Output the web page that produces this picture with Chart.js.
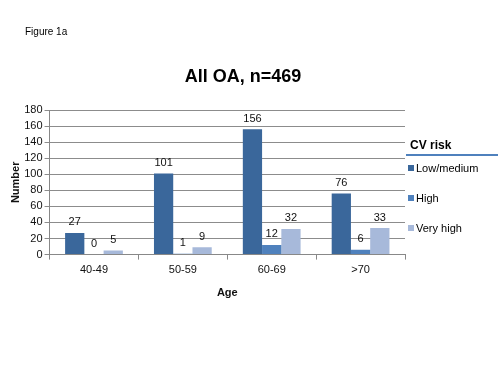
<!DOCTYPE html>
<html>
<head>
<meta charset="utf-8">
<script src="https://cdn.jsdelivr.net/npm/chart.js@4"></script>
<style>
  html, body { margin: 0; padding: 0; background: #fff; }
  body { width: 498px; height: 374px; position: relative; overflow: hidden; font-family: "Liberation Sans", Arial, sans-serif; color: #000; }
  #wrap { position: absolute; left: 0; top: 0; width: 498px; height: 374px; }
  .fig { position: absolute; left: 25px; top: 26px; font-size: 10px; }
  .title { position: absolute; left: 0; width: 486px; top: 66px; text-align: center; font-size: 18px; font-weight: bold; }
  .legend { position: absolute; left: 406px; top: 138px; width: 92px; font-size: 11px; }
  .legend .head { font-size: 12px; font-weight: bold; padding-left: 4px; padding-bottom: 2px; border-bottom: 2px solid #4f81bd; }
  .legend .item { position: absolute; left: 2px; white-space: nowrap; }
  .legend .sw { display: inline-block; width: 6px; height: 6px; margin-right: 2px; vertical-align: 1px; }
</style>
</head>
<body>
<div id="wrap"><canvas id="chart" width="498" height="374"></canvas></div>
<div class="fig">Figure 1a</div>
<div class="title">All OA, n=469</div>
<div class="legend" id="legend"><div class="head">CV risk</div></div>
<script>
// Data
const AGES      = ['40-49', '50-59', '60-69', '>70'];
const LOW_MED   = [27, 101, 156, 76];
const HIGH      = [0, 1, 12, 6];
const VERY_HIGH = [5, 9, 32, 33];
const Y_TICKS   = [0, 20, 40, 60, 80, 100, 120, 140, 160, 180];

const COLORS = { low: '#3a679b', high: '#4f81bd', very: '#a7b9da' };
const FONT = '"Liberation Sans", Arial, sans-serif';

// Value labels above each bar
const valueLabels = {
  id: 'valueLabels',
  afterDatasetsDraw(chart) {
    const ctx = chart.ctx;
    ctx.save();
    ctx.font = `11px ${FONT}`;
    ctx.fillStyle = '#111';
    ctx.textAlign = 'center';
    ctx.textBaseline = 'bottom';
    chart.data.datasets.forEach((ds, i) => {
      chart.getDatasetMeta(i).data.forEach((bar, j) => {
        ctx.fillText(String(ds.data[j]), bar.x, bar.y - 5);
      });
    });
    ctx.restore();
  },
};

const chart = new Chart(document.getElementById('chart').getContext('2d'), {
  type: 'bar',
  data: {
    labels: AGES,
    datasets: [
      { label: 'Low/medium', data: LOW_MED,   backgroundColor: COLORS.low },
      { label: 'High',       data: HIGH,      backgroundColor: COLORS.high },
      { label: 'Very high',  data: VERY_HIGH, backgroundColor: COLORS.very },
    ],
  },
  options: {
    responsive: false,
    animation: false,
    events: [],
    datasets: { bar: { categoryPercentage: 0.65, barPercentage: 1.0 } },
    layout: { padding: { left: 9, right: 93, top: 110, bottom: 70 } },
    plugins: { legend: { display: false }, title: { display: false }, tooltip: { enabled: false } },
    scales: {
      x: {
        grid: { drawOnChartArea: false, drawTicks: true, tickLength: 5, color: '#888' },
        border: { display: true, color: '#888' },
        ticks: { color: '#111', font: { family: FONT, size: 11 }, padding: 4 },
        title: { display: true, text: 'Age', color: '#111', font: { family: FONT, size: 11, weight: 'bold' }, padding: { top: 6 } },
      },
      y: {
        min: 0, max: 180,
        afterBuildTicks: (axis) => { axis.ticks = Y_TICKS.map(v => ({ value: v })); },
        grid: { color: '#8c8c8c', tickLength: 5 },
        border: { display: true, color: '#888' },
        ticks: { color: '#111', font: { family: FONT, size: 11 }, padding: 2, autoSkip: false },
        title: { display: true, text: 'Number', color: '#111', font: { family: FONT, size: 11, weight: 'bold' }, padding: { top: 0, bottom: 0 } },
      },
    },
  },
  plugins: [valueLabels],
});

// HTML legend
const legend = document.getElementById('legend');
chart.data.datasets.forEach((ds, i) => {
  const el = document.createElement('div');
  el.className = 'item';
  el.style.top = (24 + i * 30) + 'px';
  el.innerHTML = `<span class="sw" style="background:${ds.backgroundColor}"></span>${ds.label}`;
  legend.appendChild(el);
});
</script>
</body>
</html>
